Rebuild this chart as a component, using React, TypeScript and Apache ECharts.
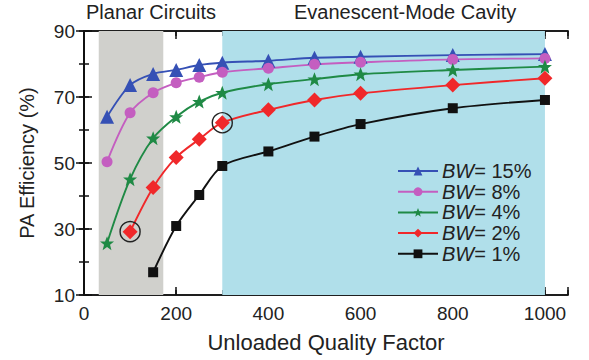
import React, { useEffect, useRef } from "react";
import * as echarts from "echarts";

const xBW15 = [50, 100, 150, 200, 250, 300, 400, 500, 600, 800, 1000];
const yBW15 = [64.0, 73.6, 77.0, 78.2, 79.7, 80.4, 81.0, 81.9, 82.2, 82.7, 83.0];
const xBW8 = [50, 100, 150, 200, 250, 300, 400, 500, 600, 800, 1000];
const yBW8 = [50.4, 65.2, 71.3, 74.3, 76.0, 77.5, 78.7, 79.9, 80.5, 81.4, 81.7];
const xBW4 = [50, 100, 150, 200, 250, 300, 400, 500, 600, 800, 1000];
const yBW4 = [25.7, 45.1, 57.5, 64.0, 68.6, 71.3, 73.9, 75.4, 76.9, 78.2, 79.2];
const xBW2 = [100, 150, 200, 250, 300, 400, 500, 600, 800, 1000];
const yBW2 = [29.2, 42.6, 51.7, 57.2, 62.2, 66.1, 69.1, 71.1, 73.6, 75.7];
const xBW1 = [150, 200, 250, 300, 400, 500, 600, 800, 1000];
const yBW1 = [16.9, 30.9, 40.3, 49.1, 53.5, 58.0, 61.8, 66.6, 69.1];

const seriesNames = ["BW= 15%", "BW= 8%", "BW= 4%", "BW= 2%", "BW= 1%"];
const circledPoints = [
  [100, 29.2],
  [300, 62.2],
];
const planarRange = [32, 172];
const cavityRange = [300, 1000];
const regionLabels = ["Planar Circuits", "Evanescent-Mode Cavity"];

const FONT = "'Liberation Sans', Arial, sans-serif";

const zip = (xs: number[], ys: number[]) => xs.map((x, i) => [x, ys[i]]);

export default function App() {
  const ref = useRef<HTMLDivElement>(null);
  useEffect(() => {
    if (!ref.current) return;
    const chart = echarts.init(ref.current, undefined, { renderer: "svg" });
    const axisLine = { show: true, lineStyle: { color: "#111", width: 1.5 } };
    const xCommon = { type: "value" as const, min: 0, max: 1050, splitLine: { show: false }, axisLine };
    const yCommon = { type: "value" as const, min: 10, max: 90, splitLine: { show: false }, axisLine };
    const majorTick = { show: true, inside: true, length: 8, lineStyle: { color: "#111", width: 1.5 } };
    const minorTick = { show: true, inside: true, length: 5, lineStyle: { color: "#111", width: 1.5 } };
    const lineSeries = (
      name: string,
      data: number[][],
      color: string,
      symbol: string,
      size: number,
      extra: any = {}
    ) => ({
      name,
      type: "line",
      data,
      smooth: 0.3,
      symbol,
      symbolSize: size,
      showSymbol: true,
      lineStyle: { color, width: 1.9 },
      itemStyle: { color },
      z: 3,
      ...extra,
    });
    chart.setOption({
      animation: false,
      grid: { left: 84, right: 21, top: 31, bottom: 65, containLabel: false },
      textStyle: { fontFamily: FONT },
      xAxis: [
        {
          ...xCommon,
          position: "bottom",
          interval: 200,
          axisTick: majorTick,
          axisLabel: {
            show: true,
            margin: 9,
            fontSize: 19,
            color: "#222",
            fontFamily: FONT,
            formatter: (v: number) => (v % 200 === 0 && v <= 1000 ? String(v) : ""),
          },
          name: "Unloaded Quality Factor",
          nameLocation: "middle",
          nameGap: 36,
          nameTextStyle: { fontSize: 22, color: "#222", fontFamily: FONT },
        },
        { ...xCommon, position: "bottom", interval: 100, axisTick: minorTick, axisLabel: { show: false } },
        { ...xCommon, position: "top", interval: 200, axisTick: majorTick, axisLabel: { show: false } },
        { ...xCommon, position: "top", interval: 100, axisTick: minorTick, axisLabel: { show: false } },
      ],
      yAxis: [
        {
          ...yCommon,
          position: "left",
          interval: 20,
          axisTick: majorTick,
          axisLabel: { show: true, margin: 9, fontSize: 19, color: "#222", fontFamily: FONT },
          name: "PA Efficiency (%)",
          nameLocation: "middle",
          nameGap: 47,
          nameTextStyle: { fontSize: 20, color: "#222", fontFamily: FONT },
        },
        { ...yCommon, position: "left", interval: 10, axisTick: minorTick, axisLabel: { show: false } },
        { ...yCommon, position: "right", interval: 20, axisTick: majorTick, axisLabel: { show: false } },
        { ...yCommon, position: "right", interval: 10, axisTick: minorTick, axisLabel: { show: false } },
      ],
      legend: {
        data: seriesNames,
        orient: "vertical",
        left: 392,
        top: 156,
        itemWidth: 40,
        itemHeight: 11,
        itemGap: 0.7,
        formatter: (name: string) => "{i|BW}" + name.slice(2),
        textStyle: {
          fontSize: 20,
          lineHeight: 20,
          color: "#222",
          fontFamily: FONT,
          padding: [0, 0, 0, -1],
          rich: { i: { fontStyle: "italic", fontSize: 20, lineHeight: 20, color: "#222", fontFamily: FONT } },
        },
      },
      graphic: [
        {
          type: "text",
          x: 86,
          y: 12,
          style: { text: regionLabels[0], fontSize: 20, fill: "#222", fontFamily: FONT, verticalAlign: "middle" },
        },
        {
          type: "text",
          x: 294,
          y: 12,
          style: { text: regionLabels[1], fontSize: 20, fill: "#222", fontFamily: FONT, verticalAlign: "middle" },
        },
      ],
      series: [
        {
          name: "regions",
          type: "line",
          data: [],
          z: 1,
          markArea: {
            silent: true,
            data: [
              [{ xAxis: planarRange[0], itemStyle: { color: "#d0d0cc" } }, { xAxis: planarRange[1] }],
              [{ xAxis: cavityRange[0], itemStyle: { color: "#b0dfea" } }, { xAxis: cavityRange[1] }],
            ],
          },
        },
        lineSeries(seriesNames[0], zip(xBW15, yBW15), "#3550b5", "triangle", 14),
        lineSeries(seriesNames[1], zip(xBW8, yBW8), "#c45ec0", "circle", 11),
        lineSeries(seriesNames[2], zip(xBW4, yBW4), "#1f8a45", "path://M0,-10L2.9,-3.1L10,-3.1L4.3,1.2L6.3,8.1L0,4L-6.3,8.1L-4.3,1.2L-10,-3.1L-2.9,-3.1Z", 14),
        lineSeries(seriesNames[3], zip(xBW2, yBW2), "#f0282a", "diamond", 15, {
          markPoint: {
            silent: true,
            symbol: "circle",
            symbolSize: 20,
            itemStyle: { color: "rgba(0,0,0,0)", borderColor: "#222", borderWidth: 1.4 },
            label: { show: false },
            data: circledPoints.map((c) => ({ coord: c })),
          },
        }),
        lineSeries(seriesNames[4], zip(xBW1, yBW1), "#111111", "rect", 10),
      ],
    });
    return () => chart.dispose();
  }, []);
  return <div ref={ref} style={{ position: "absolute", left: 0, top: 0, width: 589, height: 360 }} />;
}
